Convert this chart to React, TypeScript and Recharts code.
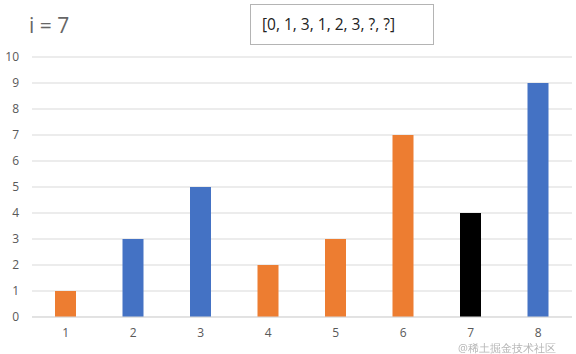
import { BarChart, Bar, XAxis, YAxis, CartesianGrid, Cell } from 'recharts';

const categories = ['1', '2', '3', '4', '5', '6', '7', '8'];
const values = [1, 3, 5, 2, 3, 7, 4, 9];
const barColors = ['#ED7D31', '#4472C4', '#4472C4', '#ED7D31', '#ED7D31', '#ED7D31', '#000000', '#4472C4'];
const yTicks = [0, 1, 2, 3, 4, 5, 6, 7, 8, 9, 10];

const data = categories.map((name, i) => ({ name, value: values[i] }));

const FONT = '"Open Sans", "Noto Sans", sans-serif';

export default function App() {
  return (
    <div style={{ position: 'fixed', left: 0, top: 0, width: 576, height: 354, background: '#fff', fontFamily: FONT }}>
      <BarChart
        width={576}
        height={354}
        data={data}
        margin={{ top: 57, right: 4, bottom: 7, left: 0 }}
        barSize={21}
      >
        <CartesianGrid vertical={false} stroke="#d9d9d9" />
        <XAxis
          dataKey="name"
          axisLine={{ stroke: '#d9d9d9' }}
          tickLine={false}
          tickMargin={5}
          tick={{ fill: '#595959', fontSize: 12, fontFamily: FONT }}
        />
        <YAxis
          width={32}
          domain={[0, 10]}
          ticks={yTicks}
          axisLine={false}
          tickLine={false}
          tickMargin={7}
          tick={{ fill: '#595959', fontSize: 12, fontFamily: FONT }}
        />
        <Bar dataKey="value" isAnimationActive={false}>
          {data.map((d, i) => (
            <Cell key={`cell-${i}`} fill={barColors[i]} />
          ))}
        </Bar>
      </BarChart>
      <div style={{ position: 'absolute', left: 29, top: 11, fontSize: 21, color: '#666' }}>i = 7</div>
      <div
        style={{
          position: 'absolute', left: 250, top: 4, width: 184, height: 41, boxSizing: 'border-box',
          border: '1px solid #b4b4b4', fontSize: 15.5, color: '#222', paddingLeft: 11, paddingTop: 8
        }}
      >
        [0, 1, 3, 1, 2, 3, ?, ?]
      </div>
      <div style={{ position: 'absolute', left: 458, top: 341, fontSize: 11, lineHeight: '13px', color: 'rgba(120,120,120,0.55)' }}>
        @稀土掘金技术社区
      </div>
    </div>
  );
}
